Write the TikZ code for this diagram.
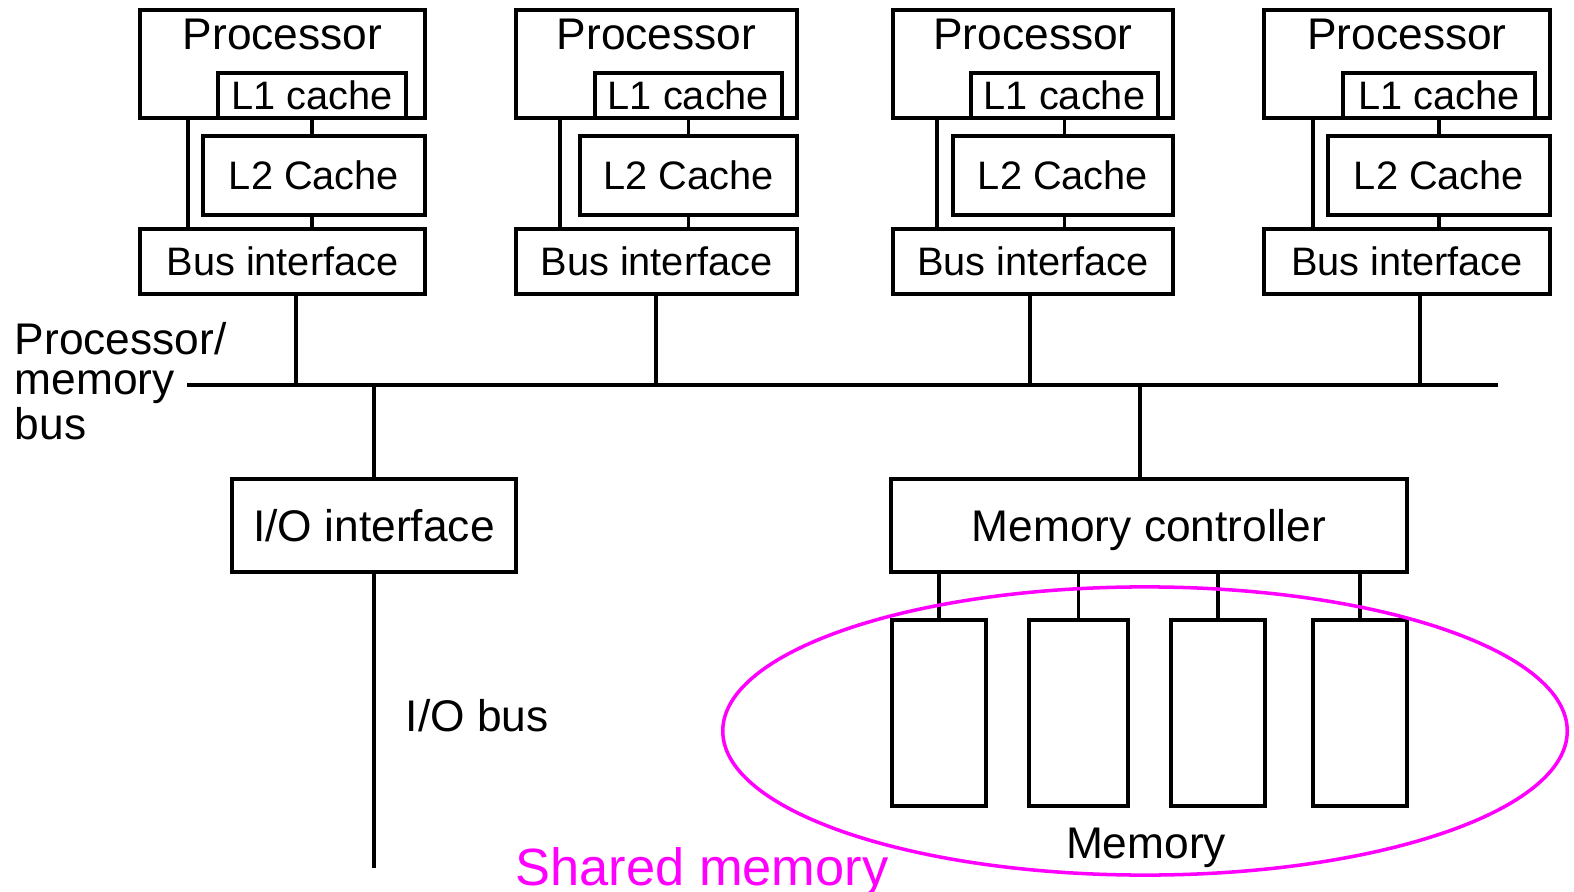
\documentclass[tikz,border=0pt]{standalone}
\usepackage{fontspec}
\setmainfont{Liberation Sans}
\usepackage{xcolor}
\definecolor{sharedpink}{RGB}{255,0,255}
\newcommand\fsbig{\fontsize{12.6}{11.4}\selectfont}
\newcommand\fssmall{\fontsize{11.3}{13}\selectfont}
\newcommand\fsshared{\fontsize{14.9}{17}\selectfont}
\begin{document}
\begin{tikzpicture}[x=0.01cm,y=-0.01cm,line width=1pt,
  box/.style={draw,inner sep=0,outer sep=0,text depth=0pt},
  small/.style={font=\fssmall},
  big/.style={font=\fsbig}]
\useasboundingbox (0,0) rectangle (1574,892);
% processor one
\draw (282.5,64) node[box,minimum width=2.85cm,minimum height=1.08cm](procone) {};
\draw (312,95.5) node[box,small,minimum width=1.88cm,minimum height=0.45cm](lone) {L1 cache};
\draw (314,175.5) node[box,small,minimum width=2.22cm,minimum height=0.79cm](ltwoone) {L2 Cache};
\draw (282.5,261.5) node[box,small,minimum width=2.85cm,minimum height=0.65cm](bione) {Bus interface};
\node[big,anchor=base] (ptone) at ([yshift=-0.40cm]procone.north) {Processor};
% processor two
\draw (656.5,64) node[box,minimum width=2.81cm,minimum height=1.08cm](proctwo) {};
\draw (688.5,95.5) node[box,small,minimum width=1.87cm,minimum height=0.45cm](ltwo) {L1 cache};
\draw (688.5,175.5) node[box,small,minimum width=2.17cm,minimum height=0.79cm](ltwotwo) {L2 Cache};
\draw (656.5,261.5) node[box,small,minimum width=2.81cm,minimum height=0.65cm](bitwo) {Bus interface};
\node[big,anchor=base] (pttwo) at ([yshift=-0.40cm]proctwo.north) {Processor};
% processor three
\draw (1033,64) node[box,minimum width=2.80cm,minimum height=1.08cm](procthree) {};
\draw (1064.5,95.5) node[box,small,minimum width=1.87cm,minimum height=0.45cm](lthree) {L1 cache};
\draw (1063,175.5) node[box,small,minimum width=2.20cm,minimum height=0.79cm](ltwothree) {L2 Cache};
\draw (1033,261.5) node[box,small,minimum width=2.80cm,minimum height=0.65cm](bithree) {Bus interface};
\node[big,anchor=base] (ptthree) at ([yshift=-0.40cm]procthree.north) {Processor};
% processor four
\draw (1407,64) node[box,minimum width=2.86cm,minimum height=1.08cm](procfour) {};
\draw (1439,95.5) node[box,small,minimum width=1.92cm,minimum height=0.45cm](lfour) {L1 cache};
\draw (1439,175.5) node[box,small,minimum width=2.22cm,minimum height=0.79cm](ltwofour) {L2 Cache};
\draw (1407,261.5) node[box,small,minimum width=2.86cm,minimum height=0.65cm](bifour) {Bus interface};
\node[big,anchor=base] (ptfour) at ([yshift=-0.40cm]procfour.north) {Processor};
% links inside each block
\draw ([xshift=0.48cm]procone.south west) -- ([xshift=0.48cm]bione.north west);
\draw (lone.south) -- (lone.south |- ltwoone.north);
\draw (ltwoone.south -| lone.south) -- (bione.north -| lone.south);
\draw ([xshift=0.44cm]proctwo.south west) -- ([xshift=0.44cm]bitwo.north west);
\draw (ltwo.south) -- (ltwo.south |- ltwotwo.north);
\draw (ltwotwo.south -| ltwo.south) -- (bitwo.north -| ltwo.south);
\draw ([xshift=0.44cm]procthree.south west) -- ([xshift=0.44cm]bithree.north west);
\draw (lthree.south) -- (lthree.south |- ltwothree.north);
\draw (ltwothree.south -| lthree.south) -- (bithree.north -| lthree.south);
\draw ([xshift=0.49cm]procfour.south west) -- ([xshift=0.49cm]bifour.north west);
\draw (lfour.south) -- (lfour.south |- ltwofour.north);
\draw (ltwofour.south -| lfour.south) -- (bifour.north -| lfour.south);
% processor/memory bus
\coordinate (busl) at (187,385);
\coordinate (busr) at (1498,385);
\draw (busl) -- (busr);
\node[big,align=left,anchor=west,inner sep=0] (buslabel) at (13,381) {Processor/\\memory\\bus};
\coordinate (tapone) at (296,385);
\coordinate (taptwo) at (656,385);
\coordinate (tapthree) at (1030,385);
\coordinate (tapfour) at (1420,385);
\coordinate (tapmem) at (1140,385);
\draw (bione.south -| tapone) -- (tapone);
\draw (bitwo.south -| taptwo) -- (taptwo);
\draw (bithree.south -| tapthree) -- (tapthree);
\draw (bifour.south -| tapfour) -- (tapfour);
% I/O side
\draw (374,525.5) node[box,big,minimum width=2.84cm,minimum height=0.93cm](ioint) {I/O interface};
\coordinate (iobus) at (374,868);
\draw (ioint.north |- busl) -- (ioint.north);
\draw (ioint.south) -- (iobus);
\node[big,anchor=base west,inner sep=0] (iolabel) at (404,731) {I/O bus};
% memory side
\draw (1149,525.5) node[box,big,minimum width=5.16cm,minimum height=0.93cm](memctl) {Memory controller};
\draw (tapmem) -- (memctl.north -| tapmem);
\draw (939,713) node[box,minimum width=0.94cm,minimum height=1.86cm](memone) {};
\draw (1078.5,713) node[box,minimum width=0.99cm,minimum height=1.86cm](memtwo) {};
\draw (1218,713) node[box,minimum width=0.94cm,minimum height=1.86cm](memthree) {};
\draw (1360,713) node[box,minimum width=0.94cm,minimum height=1.86cm](memfour) {};
\draw (memctl.south -| memone.north) -- (memone.north);
\draw (memctl.south -| memtwo.north) -- (memtwo.north);
\draw (memctl.south -| memthree.north) -- (memthree.north);
\draw (memctl.south -| memfour.north) -- (memfour.north);
\node[big,anchor=base,inner sep=0] (memlabel) at (1146,858) {Memory};
% shared memory
\draw[sharedpink] (1145,731) ellipse [x radius=4.22cm,y radius=1.44cm];
\node[font=\fsshared,text=sharedpink,anchor=base west,inner sep=0] (sharedlabel) at (514,885) {Shared memory};
\end{tikzpicture}
\end{document}
